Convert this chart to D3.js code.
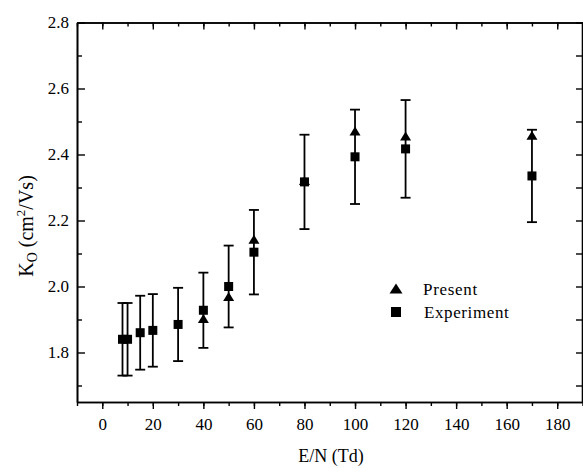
<!DOCTYPE html>
<html>
<head>
<meta charset="utf-8">
<script src="https://d3js.org/d3.v7.min.js"></script>
<style>
  body { margin: 0; background: #fff; }
  svg { display: block; }
  svg text { font-family: "Liberation Serif", "Times New Roman", Times, "DejaVu Serif", serif; }
</style>
</head>
<body>
<script>
// E/N (Td) for measured points
var enExp = [8, 10, 15, 20, 30, 40, 50, 60, 80, 100, 120, 170];
var experiment = [1.84, 1.84, 1.86, 1.867, 1.885, 1.928, 2.0, 2.104, 2.317, 2.393, 2.417, 2.335];
var expErr = [0.11, 0.11, 0.112, 0.11, 0.111, 0.114, 0.124, 0.128, 0.143, 0.143, 0.148, 0.14];

// present calculation
var enPresent = [40, 50, 60, 80, 100, 120, 170];
var present = [1.902, 1.968, 2.142, 2.32, 2.47, 2.455, 2.457];

var xTicks = [0, 20, 40, 60, 80, 100, 120, 140, 160, 180];
var yTicks = [1.8, 2.0, 2.2, 2.4, 2.6, 2.8];
var xMinor = d3.range(-10, 191, 10);
var yMinor = [1.7, 1.9, 2.1, 2.3, 2.5, 2.7];

var W = 583, H = 468;

var svg = d3.select("body").append("svg")
    .attr("width", W)
    .attr("height", H);

var x = d3.scaleLinear().domain([-10, 190]).range([77, 582.5]);
var y = d3.scaleLinear().domain([1.65, 2.8]).range([402, 22.5]);

function styleAxis(g) {
  g.attr("font-family", null).attr("font-size", 17);
  g.select(".domain").attr("stroke", "#000").attr("stroke-width", 1.6);
  g.selectAll(".tick line").attr("stroke", "#000").attr("stroke-width", 1.4);
  g.selectAll(".tick text").attr("fill", "#000");
}

// bottom
svg.append("g").attr("transform", "translate(0,402)")
    .call(d3.axisBottom(x).tickValues(xMinor).tickSize(4).tickSizeOuter(0).tickFormat(""))
    .call(styleAxis);
svg.append("g").attr("transform", "translate(0,402)")
    .call(d3.axisBottom(x).tickValues(xTicks).tickSize(7).tickSizeOuter(0).tickPadding(9).tickFormat(d3.format("d")))
    .call(styleAxis);

// top
svg.append("g").attr("transform", "translate(0,22.5)")
    .call(d3.axisTop(x).tickValues(xMinor).tickSize(-4).tickSizeOuter(0).tickFormat(""))
    .call(styleAxis);
svg.append("g").attr("transform", "translate(0,22.5)")
    .call(d3.axisTop(x).tickValues(xTicks).tickSize(-7).tickSizeOuter(0).tickFormat(""))
    .call(styleAxis);

// left
svg.append("g").attr("transform", "translate(77,0)")
    .call(d3.axisLeft(y).tickValues(yMinor).tickSize(-5).tickSizeOuter(0).tickFormat(""))
    .call(styleAxis);
svg.append("g").attr("transform", "translate(77,0)")
    .call(d3.axisLeft(y).tickValues(yTicks).tickSize(-8).tickSizeOuter(0).tickPadding(8).tickFormat(d3.format(".1f")))
    .call(styleAxis);

// right
svg.append("g").attr("transform", "translate(582,0)")
    .call(d3.axisRight(y).tickValues(yMinor.concat(yTicks)).tickSize(-6).tickSizeOuter(0).tickFormat(""))
    .call(styleAxis);

// error bars
var exp = enExp.map(function(e, i) { return {x: e, y: experiment[i], err: expErr[i]}; });
var pre = enPresent.map(function(e, i) { return {x: e, y: present[i]}; });

var eb = svg.append("g").attr("stroke", "#000").attr("stroke-width", 1.8);
exp.forEach(function(d) {
  var cx = x(d.x), y1 = y(d.y + d.err), y0 = y(d.y - d.err);
  eb.append("line").attr("x1", cx).attr("x2", cx).attr("y1", y1).attr("y2", y0);
  eb.append("line").attr("x1", cx - 5).attr("x2", cx + 5).attr("y1", y1).attr("y2", y1);
  eb.append("line").attr("x1", cx - 5).attr("x2", cx + 5).attr("y1", y0).attr("y2", y0);
});

// triangles
function tri(cx, cy, w, h) {
  return "M" + cx + "," + (cy - h * 0.55) + "L" + (cx + w / 2) + "," + (cy + h * 0.45) +
         "L" + (cx - w / 2) + "," + (cy + h * 0.45) + "Z";
}
svg.append("g").selectAll("path")
    .data(pre).enter().append("path")
    .attr("d", function(d) { return tri(x(d.x), y(d.y), 11, 9); })
    .attr("fill", "#000");

// squares
svg.append("g").selectAll("rect")
    .data(exp).enter().append("rect")
    .attr("x", function(d) { return x(d.x) - 4.5; })
    .attr("y", function(d) { return y(d.y) - 4.5; })
    .attr("width", 9)
    .attr("height", 9)
    .attr("fill", "#000");

// legend
var leg = svg.append("g").attr("font-size", 17).attr("fill", "#000");
leg.append("path").attr("d", tri(396, 289, 13, 10)).attr("fill", "#000");
leg.append("text").attr("x", 423).attr("y", 294.5).attr("letter-spacing", 0.7).text("Present");
leg.append("rect").attr("x", 391).attr("y", 307).attr("width", 10).attr("height", 10).attr("fill", "#000");
leg.append("text").attr("x", 424).attr("y", 318).attr("letter-spacing", 0.6).text("Experiment");

// axis titles
svg.append("text")
    .attr("x", 331).attr("y", 462)
    .attr("text-anchor", "middle")
    .attr("font-size", 18)
    .text("E/N (Td)");

var yt = svg.append("text")
    .attr("transform", "translate(33,226) rotate(-90)")
    .attr("text-anchor", "middle")
    .attr("font-size", 20);
yt.append("tspan").text("K");
yt.append("tspan").attr("font-size", 14).attr("dy", 4).text("O");
yt.append("tspan").attr("dy", -4).text(" (cm");
yt.append("tspan").attr("font-size", 13).attr("dy", -8).text("2");
yt.append("tspan").attr("dy", 8).text("/Vs)");
</script>
</body>
</html>
